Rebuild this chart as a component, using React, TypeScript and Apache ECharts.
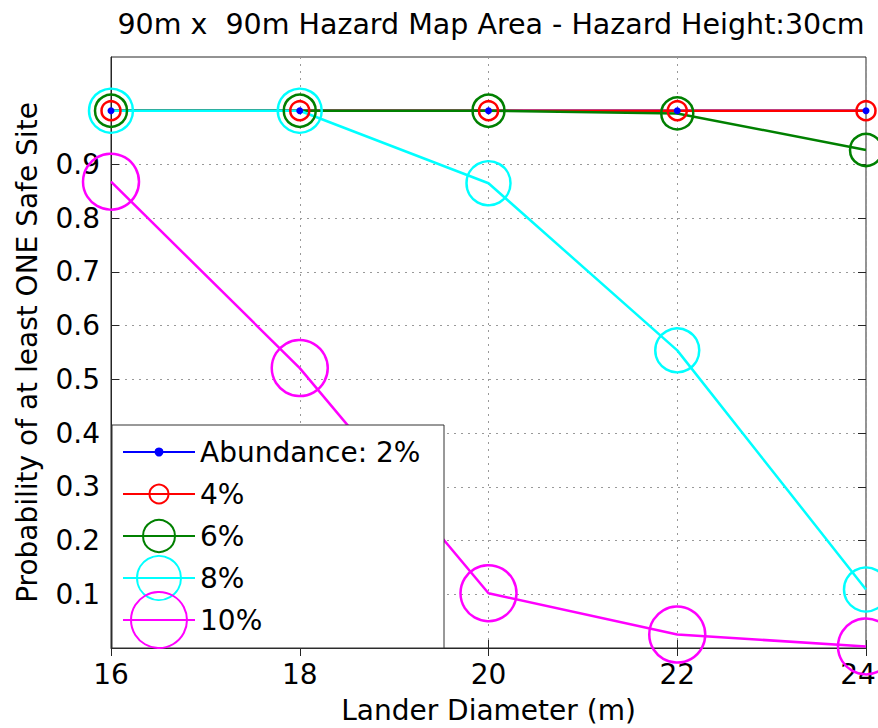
import React, { useEffect, useRef } from 'react';
import * as echarts from 'echarts';

const landerDiameters = [16, 18, 20, 22, 24];
const seriesNames = ['Abundance: 2%', '4%', '6%', '8%', '10%'];
const abundance2 = [1, 1, 1, 1, 1];
const abundance4 = [1, 1, 1, 1, 1];
const abundance6 = [1, 1, 1, 0.995, 0.927];
const abundance8 = [1, 1, 0.865, 0.554, 0.109];
const abundance10 = [0.868, 0.521, 0.102, 0.025, 0.003];
const yTickValues = [0.1, 0.2, 0.3, 0.4, 0.5, 0.6, 0.7, 0.8, 0.9];
const seriesColors = ['#0000ff', '#ff0000', '#008000', '#00ffff', '#ff00ff'];
const markerSizes = [7, 19, 32, 44, 56];

const FONT = 'DejaVu Sans';
const AXIS_COLOR = '#262626';

export default function App() {
  const ref = useRef<HTMLDivElement>(null);
  useEffect(() => {
    if (!ref.current) return;
    const chart = echarts.init(ref.current, undefined, { renderer: 'svg' });
    const allValues = [abundance2, abundance4, abundance6, abundance8, abundance10];
    const xMax = landerDiameters[landerDiameters.length - 1];

    // legend drawn as MATLAB-style box
    const legendLeft = 112;
    const legendTop = 425;
    const legendW = 332;
    const legendH = 223;
    const rowStart = 452;
    const rowGap = 42;
    const legendChildren: any[] = [
      {
        type: 'rect',
        shape: { x: legendLeft, y: legendTop, width: legendW, height: legendH },
        style: { fill: '#ffffff', stroke: '#333333', lineWidth: 1 },
        z: 10,
      },
    ];
    seriesNames.forEach((name, i) => {
      const cy = rowStart + i * rowGap;
      legendChildren.push({
        type: 'line',
        shape: { x1: 123, y1: cy, x2: 195, y2: cy },
        style: { stroke: seriesColors[i], lineWidth: 2 },
        z: 11,
      });
      legendChildren.push({
        type: 'circle',
        shape: { cx: 159, cy, r: markerSizes[i] / 2 },
        style: {
          fill: i === 0 ? seriesColors[i] : 'none',
          stroke: seriesColors[i],
          lineWidth: 2,
        },
        z: 12,
      });
      legendChildren.push({
        type: 'text',
        x: 200,
        y: cy,
        style: {
          text: name,
          fill: '#000',
          font: `28px "${FONT}"`,
          verticalAlign: 'middle',
          align: 'left',
        },
        z: 12,
      });
    });

    const option: any = {
      animation: false,
      backgroundColor: '#ffffff',
      title: {
        text: '90m x  90m Hazard Map Area - Hazard Height:30cm',
        left: 486,
        top: 5,
        textAlign: 'center',
        textStyle: { fontFamily: FONT, fontSize: 28.5, fontWeight: 'normal', color: '#000' },
      },
      grid: {
        left: 111,
        right: 12,
        top: 57,
        bottom: 80,
        outerBoundsMode: 'none',
        containLabel: false,
        show: true,
        borderColor: AXIS_COLOR,
        borderWidth: 1,
        backgroundColor: 'transparent',
      },
      xAxis: [
        {
          type: 'value',
          min: 16,
          max: 24,
          interval: 2,
          position: 'bottom',
          name: 'Lander Diameter (m)',
          nameLocation: 'middle',
          nameGap: 48,
          nameTextStyle: { fontFamily: FONT, fontSize: 28, color: '#000' },
          axisLine: { show: true, lineStyle: { color: AXIS_COLOR, width: 1 } },
          axisTick: { show: true, inside: true, length: 8, lineStyle: { color: AXIS_COLOR } },
          axisLabel: {
            fontFamily: FONT,
            fontSize: 28,
            color: '#000',
            margin: 12,
            formatter: (v: number) => (v === xMax ? `{e|${v}}` : `${v}`),
            rich: {
              e: { fontFamily: FONT, fontSize: 28, color: '#000', padding: [0, 16, 0, 0] },
            },
          },
          splitLine: { show: true, lineStyle: { color: '#999999', type: [2, 5], width: 1 } },
        },
        {
          type: 'value',
          min: 16,
          max: 24,
          interval: 2,
          position: 'top',
          axisLine: { show: false },
          axisTick: { show: true, inside: true, length: 8, lineStyle: { color: AXIS_COLOR } },
          axisLabel: { show: false },
          splitLine: { show: false },
        },
      ],
      yAxis: [
        {
          type: 'value',
          min: 0,
          max: 1.1,
          interval: 0.1,
          position: 'left',
          name: 'Probability of at least ONE Safe Site',
          nameLocation: 'middle',
          nameGap: 70,
          nameTextStyle: { fontFamily: FONT, fontSize: 28, color: '#000' },
          axisLine: { show: true, lineStyle: { color: AXIS_COLOR, width: 1 } },
          axisTick: { show: true, inside: true, length: 8, lineStyle: { color: AXIS_COLOR }, customValues: yTickValues },
          axisLabel: {
            fontFamily: FONT,
            fontSize: 28,
            color: '#000',
            margin: 11,
            customValues: yTickValues,
            formatter: (v: number) => (v > 0.05 && v < 0.95 ? v.toFixed(1) : ''),
          },
          splitLine: { show: true, lineStyle: { color: '#999999', type: [2, 5], width: 1 } },
        },
        {
          type: 'value',
          min: 0,
          max: 1.1,
          interval: 0.1,
          position: 'right',
          axisLine: { show: false },
          axisTick: { show: true, inside: true, length: 8, lineStyle: { color: AXIS_COLOR }, customValues: yTickValues },
          axisLabel: { show: false },
          splitLine: { show: false },
        },
      ],
      series: allValues.map((vals, i) => ({
        name: seriesNames[i],
        type: 'line',
        xAxisIndex: 0,
        yAxisIndex: 0,
        data: landerDiameters.map((x, j) => [x, vals[j]]),
        symbol: 'circle',
        symbolSize: markerSizes[i],
        showSymbol: true,
        clip: false,
        silent: true,
        lineStyle: { color: seriesColors[i], width: 2.5 },
        itemStyle:
          i === 0
            ? { color: seriesColors[i] }
            : { color: 'rgba(0,0,0,0)', borderColor: seriesColors[i], borderWidth: 2.5 },
        emphasis: { disabled: true },
      })),
      graphic: [{ type: 'group', children: legendChildren }],
    };
    chart.setOption(option);
    return () => {
      chart.dispose();
    };
  }, []);
  return (
    <div
      ref={ref}
      style={{ position: 'absolute', left: 0, top: 0, width: 878, height: 728 }}
    />
  );
}
